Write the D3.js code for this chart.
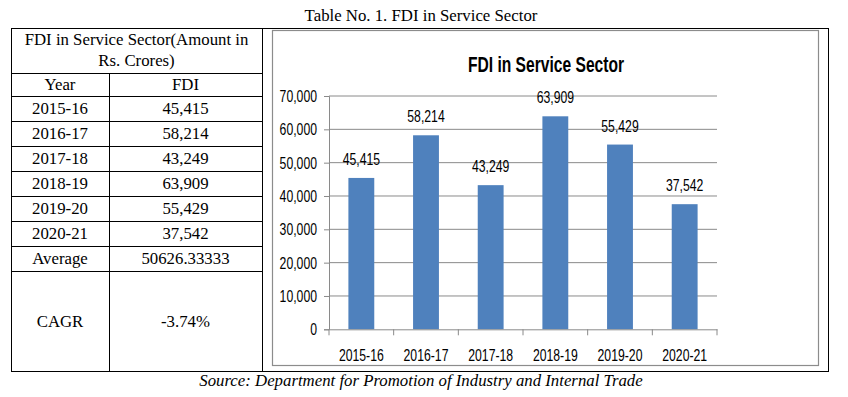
<!DOCTYPE html>
<html>
<head>
<meta charset="utf-8">
<script src="https://cdn.jsdelivr.net/npm/d3@7"></script>
<style>
  html, body { margin: 0; padding: 0; background: #fff; }
  svg { display: block; }
</style>
</head>
<body>
<svg id="c" width="848" height="397"></svg>
<script>
// ---- data ----
const years = ["2015-16", "2016-17", "2017-18", "2018-19", "2019-20", "2020-21"];
const fdi = [45415, 58214, 43249, 63909, 55429, 37542];
const averageText = "50626.33333";
const cagrText = "-3.74%";
const yTicks = [0, 10000, 20000, 30000, 40000, 50000, 60000, 70000];
const tableTitle = "Table No. 1. FDI in Service Sector";
const tableHeader = ["FDI in Service Sector(Amount in", "Rs. Crores)"];
const colHeads = ["Year", "FDI"];
const chartTitle = "FDI in Service Sector";
const sourceText = "Source: Department for Promotion of Industry and Internal Trade";

const svg = d3.select("#c");
const serif = "'Liberation Serif','Times New Roman',serif";
const sans = "'Liberation Sans',Arial,sans-serif";
const SX = 0.72;      // horizontal squeeze to mimic a narrow (Calibri-like) face
const chartFont = 17;
const fmt = d3.format(",");
const serifSize = 16.8;

// ---- page title ----
svg.append("text").attr("x", 421).attr("y", 21).attr("text-anchor", "middle")
  .attr("font-family", serif).attr("font-size", serifSize).attr("fill", "#000").text(tableTitle);

// ---- outer table borders ----
const T = { left: 11, right: 828, top: 28, bottom: 371, mid: 262, col: 109 };
const g = svg.append("g").attr("stroke", "#000").attr("stroke-width", 1).attr("shape-rendering", "crispEdges");
g.append("rect").attr("x", T.left + 0.5).attr("y", T.top + 0.5)
  .attr("width", T.right - T.left).attr("height", T.bottom - T.top).attr("fill", "none");
g.append("line").attr("x1", T.mid + 0.5).attr("x2", T.mid + 0.5).attr("y1", T.top).attr("y2", T.bottom);

// row boundaries for inner table
const rowLines = [73, 96, 121, 146, 171, 196, 221, 246, 271];
rowLines.forEach(y => g.append("line").attr("x1", T.left).attr("x2", T.mid)
  .attr("y1", y + 0.5).attr("y2", y + 0.5));
g.append("line").attr("x1", T.col + 0.5).attr("x2", T.col + 0.5).attr("y1", 73).attr("y2", T.bottom);

const c1 = 60, c2 = 185.5, cHead = (T.left + T.mid) / 2;
const tt = svg.append("g").attr("font-family", serif).attr("font-size", serifSize)
  .attr("fill", "#000").attr("text-anchor", "middle");
tt.append("text").attr("x", cHead).attr("y", 45).text(tableHeader[0]);
tt.append("text").attr("x", cHead).attr("y", 66).text(tableHeader[1]);
tt.append("text").attr("x", c1).attr("y", 90).text(colHeads[0]);
tt.append("text").attr("x", c2).attr("y", 90).text(colHeads[1]);
years.forEach((yr, i) => {
  const yb = rowLines[i + 1] + 18;
  tt.append("text").attr("x", c1).attr("y", yb).text(yr);
  tt.append("text").attr("x", c2).attr("y", yb).text(fmt(fdi[i]));
});
tt.append("text").attr("x", c1).attr("y", rowLines[7] + 18).text("Average");
tt.append("text").attr("x", c2).attr("y", rowLines[7] + 18).text(averageText);
tt.append("text").attr("x", c1).attr("y", 327).text("CAGR");
tt.append("text").attr("x", c2).attr("y", 327).text(cagrText);

// ---- chart image frame ----
svg.append("rect").attr("x", 272.5).attr("y", 30.5).attr("width", 546).attr("height", 335)
  .attr("fill", "#fff").attr("stroke", "#8c8c8c").attr("stroke-width", 1.2);

// ---- chart ----
const plot = { left: 329, right: 717, top: 96, bottom: 329.3 };
const x = d3.scaleBand().domain(years).range([plot.left, plot.right])
  .paddingInner(0.6).paddingOuter(0.3);
const y = d3.scaleLinear().domain([0, 70000]).range([plot.bottom, plot.top]);

svg.append("text").attr("transform", "translate(546,71.5) scale(0.71,1)")
  .attr("text-anchor", "middle")
  .attr("font-family", sans).attr("font-weight", "bold").attr("font-size", 22)
  .attr("fill", "#000").text(chartTitle);

// gridlines
svg.append("g").selectAll("line").data(yTicks.filter(d => d > 0)).join("line")
  .attr("x1", plot.left).attr("x2", plot.right)
  .attr("y1", d => y(d)).attr("y2", d => y(d))
  .attr("stroke", "#8a8a8a").attr("stroke-width", 1);

// bars
svg.append("g").selectAll("rect").data(years).join("rect")
  .attr("x", d => x(d)).attr("width", x.bandwidth())
  .attr("y", (d, i) => y(fdi[i])).attr("height", (d, i) => y(0) - y(fdi[i]))
  .attr("fill", "#4f81bd");

// y axis
const yAxis = d3.axisLeft(y).tickValues(yTicks).tickFormat(d => d === 0 ? "0" : fmt(d))
  .tickSize(5).tickPadding(7);
const ya = svg.append("g").attr("transform", `translate(${plot.left},0)`).call(yAxis);
ya.select(".domain").attr("stroke", "#8a8a8a");
ya.selectAll(".tick line").attr("stroke", "#8a8a8a");
ya.selectAll("text").attr("font-family", sans).attr("font-size", chartFont).attr("fill", "#000")
  .attr("x", -12 / SX).attr("transform", `scale(${SX},1)`);

// x axis
const xAxis = d3.axisBottom(x).tickSize(0).tickPadding(20);
const xa = svg.append("g").attr("transform", `translate(0,${plot.bottom})`).call(xAxis);
xa.select(".domain").attr("stroke", "#8a8a8a");
xa.selectAll("text").attr("font-family", sans).attr("font-size", chartFont).attr("fill", "#000")
  .attr("transform", `scale(${SX},1)`);
// boundary tick marks
const bounds = d3.range(years.length + 1).map(i => plot.left + i * x.step());
svg.append("g").selectAll("line").data(bounds).join("line")
  .attr("x1", d => d).attr("x2", d => d).attr("y1", plot.bottom).attr("y2", plot.bottom + 6)
  .attr("stroke", "#8a8a8a");

// data labels
svg.append("g").selectAll("text").data(years).join("text")
  .attr("transform", (d, i) => `translate(${x(d) + x.bandwidth() / 2},${y(fdi[i]) - 13}) scale(${SX},1)`)
  .attr("text-anchor", "middle").attr("font-family", sans).attr("font-size", chartFont)
  .attr("fill", "#000").text((d, i) => fmt(fdi[i]));

// ---- source ----
svg.append("text").attr("x", 421).attr("y", 386).attr("text-anchor", "middle")
  .attr("font-family", serif).attr("font-style", "italic").attr("font-size", serifSize)
  .attr("fill", "#000").text(sourceText);
</script>
</body>
</html>
